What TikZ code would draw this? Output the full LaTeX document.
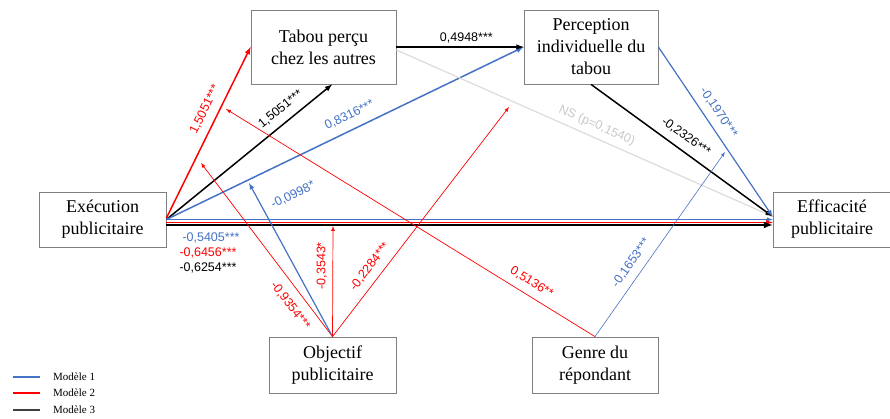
\documentclass[tikz,border=0pt]{standalone}
\usepackage{fontspec}
\setmainfont{Liberation Serif}
\newfontfamily\lblfont{Liberation Sans}
\usetikzlibrary{positioning}
\definecolor{mblue}{RGB}{68,114,196}
\definecolor{mred}{RGB}{255,0,0}
\definecolor{mblack}{RGB}{0,0,0}
\definecolor{nsgray}{RGB}{220,220,220}
\definecolor{nstext}{RGB}{200,200,200}
\definecolor{boxgray}{RGB}{128,128,128}
\definecolor{leggray}{RGB}{64,64,64}

\begin{document}
\begin{tikzpicture}[x=1pt, y=-1pt,
	box/.style={draw=boxgray, line width=0.8pt, fill=white, align=center, inner sep=0pt, font=\fontsize{18}{22}\selectfont},
	coef/.style={font=\lblfont\fontsize{12.5}{14}\selectfont, inner sep=1.5pt},
	leg/.style={font=\fontsize{11}{12}\selectfont, inner sep=0pt, anchor=west}]
	\useasboundingbox (0,0) rectangle (890,419);

	\node [box, minimum width=127pt, minimum height=55pt] (exec) at (102.5,219.5) {Exécution\\publicitaire};
	\node [box, minimum width=145pt, minimum height=74pt] (tabou) at (323.5,47) {Tabou perçu\\chez les autres};
	\node [box, minimum width=134pt, minimum height=74pt] (percep) at (591,47) {Perception\\individuelle du\\tabou};
	\node [box, minimum width=118pt, minimum height=55pt] (effic) at (832,219.5) {Efficacité\\publicitaire};
	\node [box, minimum width=127pt, minimum height=56pt] (obj) at (332.5,365) {Objectif\\publicitaire};
	\node [box, minimum width=126pt, minimum height=56pt] (genre) at (595,365) {Genre du\\répondant};

	\coordinate (onred) at (201,163);
	\coordinate (onblue) at (249,183);
	\coordinate (onhz) at (333,226);
	\coordinate (onns) at (509,107);
	\coordinate (onredtop) at (226,109);
	\coordinate (onblueright) at (725,152);

	\draw [mblue, line width=1pt, arrows={-latex}] (exec.east) -- (effic.west);
	\draw [mred, line width=1.2pt, arrows={-latex}] ([yshift=-3pt]exec.east) -- ([yshift=-3pt]effic.west);
	\draw [mblack, line width=2pt, arrows={-latex}] ([yshift=-5.5pt]exec.east) -- ([yshift=-5.5pt]effic.west);

	\draw [mred, line width=1.5pt, arrows={-latex}] ([yshift=1.5pt]exec.east) -- (tabou.west) node [coef, sloped, above=6pt, pos=0.6] {1,5051***};
	\draw [mblack, line width=1.5pt, arrows={-latex}] (exec.east) -- (tabou.-77) node [coef, sloped, above=6pt, pos=0.74] {1,5051***};
	\draw [mblue, line width=1.5pt, arrows={-latex}] (exec.east) -- (percep.west) node [coef, sloped, above=7pt, pos=0.53] {0,8316***};
	\draw [mblack, line width=1.5pt, arrows={-latex}] (tabou.east) -- (percep.west) node [coef, above=2pt, pos=0.55] {0,4948***};
	\draw [nsgray, line width=1.2pt, arrows={-latex}] ([yshift=-3pt]tabou.east) -- ([yshift=3pt]effic.west) node [coef, text=nstext, sloped, above=4pt, pos=0.52] {NS (p=0,1540)};
	\draw [mblack, line width=1.5pt, arrows={-latex}] (percep.south) -- ([yshift=3pt]effic.west) node [coef, sloped, above=6pt, pos=0.48] {-0,2326***};
	\draw [mblue, line width=1.2pt, arrows={-latex}] (percep.east) -- ([yshift=3pt]effic.west) node [coef, sloped, above=6pt, pos=0.43] {-0,1970***};

	\draw [mred, line width=0.7pt, arrows={-latex}] (obj.north) -- (onred) node [coef, sloped, below=8pt, pos=0.23] {-0,9354***};
	\draw [mblue, line width=1.2pt, arrows={-latex}] (obj.north) -- (onblue);
	\node [coef, text=mblue, rotate=26] (lbl0998) at (293,195) {-0,0998*};
	\draw [mred, line width=0.7pt, arrows={-latex}] (obj.north) -- (onhz) node [coef, sloped, above=4pt, pos=0.64] {-0,3543*};
	\draw [mred, line width=0.7pt, arrows={-latex}] (obj.north) -- (onns) node [coef, sloped, above=6pt, pos=0.27] {-0,2284***};
	\draw [mred, line width=0.7pt, arrows={-latex}] (genre.north) -- (onredtop) node [coef, sloped, above=6pt, pos=0.19] {0,5136**};
	\draw [mblue, line width=0.6pt, arrows={-latex}] (genre.north) -- (onblueright) node [coef, sloped, above=6pt, pos=0.36] {-0,1653***};

	\node [coef, text=mblue] (c1) at (211,238) {-0,5405***};
	\node [coef, text=mred, below=1.5pt of c1, xshift=-3pt] (c2) {-0,6456***};
	\node [coef, below=1pt of c2] (c3) {-0,6254***};

	\node [leg] (m1) at (53,377) {Modèle 1};
	\node [leg] (m2) at (53,393) {Modèle 2};
	\node [leg] (m3) at (53,410) {Modèle 3};
	\draw [mblue, line width=1.2pt] ([xshift=-13pt]m1.west) -- ++(-27,0);
	\draw [mred, line width=1.2pt] ([xshift=-13pt]m2.west) -- ++(-27,0);
	\draw [leggray, line width=1.5pt] ([xshift=-13pt]m3.west) -- ++(-27,0);
\end{tikzpicture}
\end{document}
